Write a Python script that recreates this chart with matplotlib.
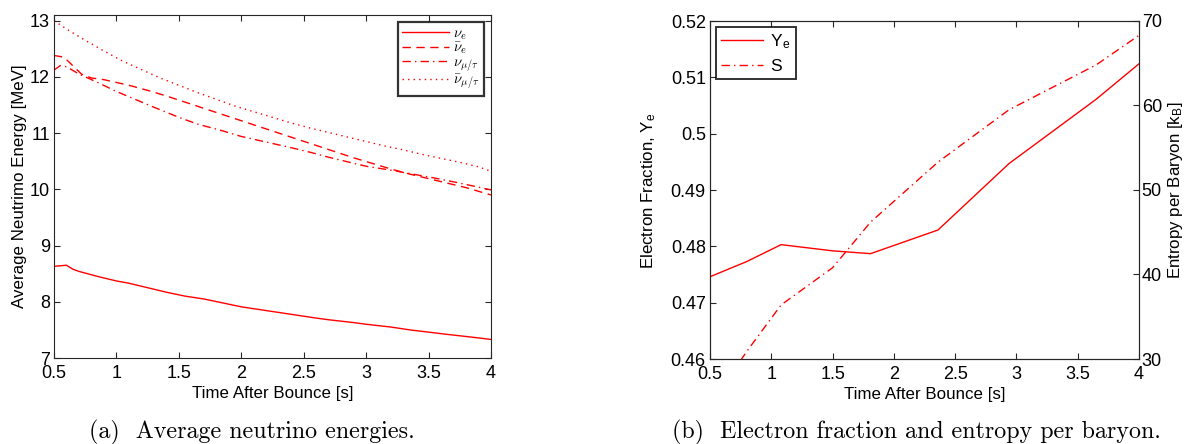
import matplotlib
matplotlib.use("Agg")
import matplotlib.pyplot as plt
import numpy as np

plt.rcParams['font.family'] = ['Liberation Sans', 'DejaVu Sans']
plt.rcParams['mathtext.fontset'] = 'cm'

# ---- Panel (a): average neutrino energies ----
t_nue = [0.5, 0.55, 0.6, 0.65, 0.7, 0.85, 1.0, 1.1, 1.25, 1.4, 1.55, 1.7, 1.85, 2.0, 2.15,
         2.3, 2.45, 2.6, 2.7, 2.9, 3.0, 3.2, 3.35, 3.5, 3.65, 3.85, 4.0]
e_nue = [8.63, 8.64, 8.65, 8.58, 8.54, 8.45, 8.37, 8.33, 8.25, 8.17, 8.10, 8.05, 7.98, 7.91, 7.86,
         7.81, 7.76, 7.71, 7.68, 7.63, 7.60, 7.55, 7.50, 7.46, 7.42, 7.37, 7.33]

t_anue = [0.5, 0.58, 0.65, 0.72, 0.8, 0.9, 1.0, 1.1, 1.25, 1.4, 1.55, 1.7, 1.85, 2.0, 2.15,
          2.3, 2.45, 2.6, 2.75, 2.9, 3.05, 3.2, 3.35, 3.5, 3.65, 3.8, 4.0]
e_anue = [12.38, 12.35, 12.20, 12.05, 11.98, 11.95, 11.90, 11.85, 11.76, 11.66, 11.55, 11.44, 11.33, 11.22, 11.11,
          11.00, 10.89, 10.78, 10.67, 10.56, 10.46, 10.36, 10.27, 10.19, 10.11, 10.03, 9.90]

t_numu = [0.5, 0.55, 0.6, 0.7, 0.85, 1.0, 1.15, 1.3, 1.5, 1.65, 1.85, 2.0, 2.2, 2.4, 2.55,
          2.7, 2.85, 3.0, 3.2, 3.4, 3.55, 3.75, 4.0]
e_numu = [12.12, 12.20, 12.18, 12.05, 11.90, 11.74, 11.60, 11.46, 11.28, 11.16, 11.04, 10.94, 10.84, 10.74, 10.66,
          10.57, 10.49, 10.41, 10.34, 10.26, 10.20, 10.11, 9.99]

t_anumu = [0.5, 0.6, 0.75, 0.9, 1.05, 1.2, 1.35, 1.5, 1.65, 1.8, 1.95, 2.1, 2.25, 2.4, 2.55,
           2.7, 2.85, 3.0, 3.15, 3.3, 3.45, 3.6, 3.75, 3.9, 4.0]
e_anumu = [13.00, 12.85, 12.65, 12.46, 12.28, 12.13, 11.98, 11.85, 11.72, 11.60, 11.48, 11.38, 11.28, 11.18, 11.09,
           11.01, 10.93, 10.85, 10.77, 10.70, 10.62, 10.55, 10.48, 10.40, 10.32]

leg_a = [r'$\nu_e$', r'$\bar{\nu}_e$', r'$\nu_{\mu/\tau}$', r'$\bar{\nu}_{\mu/\tau}$']

# ---- Panel (b): electron fraction and entropy ----
t_b = [0.5, 0.8, 1.08, 1.5, 1.81, 2.36, 2.94, 3.65, 4.0]
ye = [0.4746, 0.4773, 0.4803, 0.4792, 0.4787, 0.4829, 0.4947, 0.5061, 0.5124]
entropy = [24.5, 30.9, 36.4, 40.8, 46.2, 53.3, 59.5, 64.8, 68.3]

red = '#ff0000'
spine_c = '#262626'
tick_fs = 13
lab_fs = 12.2

fig = plt.figure(figsize=(11.84, 4.44), dpi=100)

# Panel (a)
ax1 = fig.add_axes([54/1184, 1-358/444, (491-54)/1184, (358-15)/444])
ax1.plot(t_nue, e_nue, color=red, lw=1.0, ls='-', label=leg_a[0])
ax1.plot(t_anue, e_anue, color=red, lw=1.0, ls=(0, (6, 4)), label=leg_a[1])
ax1.plot(t_numu, e_numu, color=red, lw=1.0, ls=(0, (6, 3, 1, 3)), label=leg_a[2])
ax1.plot(t_anumu, e_anumu, color=red, lw=1.0, ls=(0, (1, 3)), label=leg_a[3])
ax1.set_xlim(0.5, 4)
ax1.set_ylim(7, 13.1)
ax1.set_xticks([0.5, 1, 1.5, 2, 2.5, 3, 3.5, 4])
ax1.set_xticklabels(['0.5', '1', '1.5', '2', '2.5', '3', '3.5', '4'])
ax1.set_yticks([7, 8, 9, 10, 11, 12, 13])
ax1.set_xlabel('Time After Bounce [s]', fontsize=lab_fs, labelpad=3)
ax1.set_ylabel('Average Neutrimo Energy [MeV]', fontsize=lab_fs, labelpad=2)
ax1.tick_params(direction='in', top=True, right=True, labelsize=tick_fs, length=4,
                color=spine_c)
ax1.tick_params(axis='x', pad=5)
ax1.tick_params(axis='y', pad=3)
for s in ax1.spines.values():
    s.set_color(spine_c)
    s.set_linewidth(0.8)
leg1 = ax1.legend(loc='upper right', bbox_to_anchor=(484/1184, 1-22/444),
                  bbox_transform=fig.transFigure, fontsize=10.5, frameon=True,
                  fancybox=False, borderaxespad=0, handlelength=3.2, handletextpad=0.3,
                  labelspacing=-0.08, borderpad=0.3)
leg1.get_frame().set_edgecolor('black')
leg1.get_frame().set_linewidth(1.6)

# Panel (b)
ax2 = fig.add_axes([710/1184, 1-359/444, (1139-710)/1184, (359-21)/444])
l1, = ax2.plot(t_b, ye, color=red, lw=1.0, ls='-', label=r'Y$_\mathregular{e}$')
ax2.set_xlim(0.5, 4)
ax2.set_ylim(0.46, 0.52)
ax2.set_xticks([0.5, 1, 1.5, 2, 2.5, 3, 3.5, 4])
ax2.set_xticklabels(['0.5', '1', '1.5', '2', '2.5', '3', '3.5', '4'])
ax2.set_yticks([0.46, 0.47, 0.48, 0.49, 0.50, 0.51, 0.52])
ax2.set_yticklabels(['0.46', '0.47', '0.48', '0.49', '0.5', '0.51', '0.52'])
ax2.set_xlabel('Time After Bounce [s]', fontsize=lab_fs, labelpad=3)
ax2.set_ylabel(r'Electron Fraction, Y$_\mathregular{e}$', fontsize=lab_fs, labelpad=9)
ax2.tick_params(direction='in', top=True, right=False, labelsize=tick_fs, length=4,
                color=spine_c)
ax2.tick_params(axis='x', pad=5)
ax2.tick_params(axis='y', pad=3)
ax3 = ax2.twinx()
l2, = ax3.plot(t_b, entropy, color=red, lw=1.0, ls=(0, (6, 3, 1, 3)), label='S')
ax3.set_ylim(30, 70)
ax3.set_yticks([30, 40, 50, 60, 70])
ax3.set_ylabel(r'Entropy per Baryon [k$_\mathregular{B}$]', fontsize=lab_fs, labelpad=3)
ax3.tick_params(direction='in', labelsize=tick_fs, length=4, color=spine_c, pad=2)
for a in (ax2, ax3):
    for s in a.spines.values():
        s.set_color(spine_c)
        s.set_linewidth(0.8)
leg2 = ax2.legend([l1, l2], [r'Y$_\mathregular{e}$', 'S'], loc='upper left',
                  bbox_to_anchor=(716/1184, 1-27/444), bbox_transform=fig.transFigure,
                  fontsize=12.5, frameon=True, fancybox=False, borderaxespad=0,
                  handlelength=2.4, handletextpad=0.4, labelspacing=0.45, borderpad=0.3)
leg2.get_frame().set_edgecolor('black')
leg2.get_frame().set_linewidth(1.4)

# Captions
fig.text(252/1184, 1-432/444, '(a)  Average neutrino energies.', ha='center', va='center',
         fontsize=17.3, family='cmr10')
fig.text(916/1184, 1-432/444, '(b)  Electron fraction and entropy per baryon.', ha='center',
         va='center', fontsize=17.3, family='cmr10')

fig.savefig('out.png', dpi=100)
